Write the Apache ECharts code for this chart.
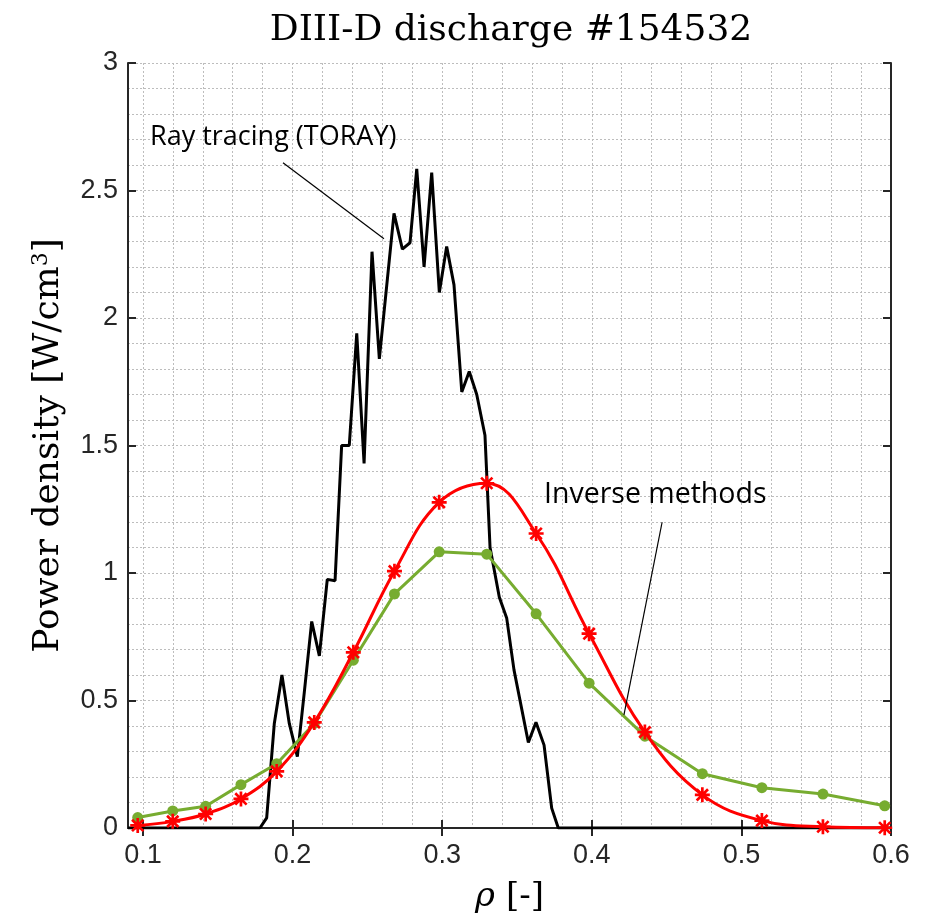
<!DOCTYPE html>
<html><head><meta charset="utf-8">
<script src="https://cdn.jsdelivr.net/npm/echarts@6/dist/echarts.min.js"></script>
<style>html,body{margin:0;padding:0;background:#fff}#c{width:933px;height:920px}</style>
</head><body><div id="c"></div>
<script>
// ---- data ----
const rhoInv = [0.0965,0.1199,0.1419,0.1655,0.1894,0.2145,0.2406,0.2681,0.2980,0.3298,0.3628,0.3982,0.4355,0.4739,0.5137,0.5545,0.5958];
const invRed = [0.010,0.026,0.055,0.114,0.222,0.414,0.689,1.007,1.277,1.352,1.155,0.762,0.376,0.130,0.029,0.005,0.001];
const invGreen = [0.041,0.067,0.085,0.170,0.252,0.410,0.658,0.918,1.083,1.074,0.840,0.568,0.360,0.213,0.158,0.133,0.087];
const rhoToray = [0.09,0.1782,0.1827,0.1878,0.1929,0.1978,0.2032,0.2078,0.2128,0.2179,0.2232,0.2284,0.2328,0.2379,0.2429,0.2478,0.2531,0.258,0.2678,0.2734,0.2785,0.283,0.2879,0.293,0.2981,0.303,0.3079,0.3131,0.3181,0.3231,0.3286,0.332,0.3382,0.3431,0.348,0.3576,0.3627,0.3681,0.3732,0.3776,0.6];
const torayP = [0,0,0.04,0.41,0.60,0.41,0.28,0.53,0.81,0.675,0.975,0.97,1.50,1.50,1.94,1.43,2.26,1.84,2.41,2.27,2.295,2.585,2.20,2.57,2.10,2.28,2.13,1.71,1.79,1.70,1.54,1.10,0.905,0.824,0.62,0.335,0.415,0.325,0.078,0,0];
const xTickValues = [0.1,0.2,0.3,0.4,0.5,0.6];
const xGridValues = [0.1,0.12,0.14,0.16,0.18,0.2,0.22,0.24,0.26,0.28,0.3,0.32,0.34,0.36,0.38,0.4,0.42,0.44,0.46,0.48,0.5,0.52,0.54,0.56,0.58];
const titleText = 'DIII-D discharge #154532';
const labelRay = 'Ray tracing (TORAY)';
const labelInv = 'Inverse methods';
const annRay = [[0.1936,2.609],[0.2611,2.311]];
const annInv = [[0.447,1.199],[0.4215,0.444]];

const zip = (a,b) => a.map((v,i)=>[v,b[i]]);
const axisColor = '#262626';
const gridLine = {show:true, lineStyle:{color:'#bdbdbd', width:1, type:[2,2]}};
const star = 'path://M0,8.2L20,8.2L20,11.8L0,11.8Z M8.2,0L11.8,0L11.8,20L8.2,20Z M3.7,1.2L18.8,16.3L16.3,18.8L1.2,3.7Z M16.3,1.2L18.8,3.7L3.7,18.8L1.2,16.3Z';

const chart = echarts.init(document.getElementById('c'), null, {renderer:'canvas'});
chart.setOption({
  animation:false,
  backgroundColor:'#fff',
  grid:{left:128, right:42, top:63, bottom:92, outerBoundsMode:'none'},
  xAxis:[
    {type:'value', min:0.09, max:0.6, position:'bottom',
     axisLine:{show:true, lineStyle:{color:axisColor, width:2}},
     axisTick:{show:true, inside:true, length:8, customValues:xTickValues, lineStyle:{color:axisColor, width:2}},
     axisLabel:{show:true, customValues:xTickValues, formatter:v=>v.toFixed(1), fontFamily:'Liberation Sans', fontSize:27, color:axisColor, margin:14},
     splitLine:{show:false},
     name:'{r|ρ} [-]', nameLocation:'middle', nameGap:52,
     nameTextStyle:{fontFamily:'DejaVu Serif', fontSize:34, color:'#000', rich:{r:{fontFamily:'DejaVu Serif', fontStyle:'italic', fontSize:34, color:'#000'}}}
    },
    {type:'value', min:0.09, max:0.6, position:'top',
     axisLine:{show:true, lineStyle:{color:axisColor, width:2}},
     axisTick:{show:true, inside:true, length:8, customValues:xTickValues, lineStyle:{color:axisColor, width:2}},
     axisLabel:{show:false}, splitLine:{show:false}},
    {type:'value', min:0.09, max:0.6, position:'bottom',
     axisLine:{show:false}, axisTick:{show:false, customValues:xGridValues},
     axisLabel:{show:false}, splitLine:gridLine}
  ],
  yAxis:[
    {type:'value', min:0, max:3, interval:0.5, position:'left',
     axisLine:{show:true, lineStyle:{color:axisColor, width:2}},
     axisTick:{show:true, inside:true, length:8, lineStyle:{color:axisColor, width:2}},
     axisLabel:{fontFamily:'Liberation Sans', fontSize:27, color:axisColor, margin:10},
     splitLine:gridLine,
     minorTick:{show:false, splitNumber:5},
     minorSplitLine:gridLine,
     name:'Power density [W/cm{s|3}]', nameLocation:'middle', nameRotate:90, nameGap:60,
     nameTextStyle:{fontFamily:'DejaVu Serif', fontSize:36, color:'#000', rich:{s:{fontFamily:'DejaVu Serif', fontSize:22, color:'#000', padding:[0,0,16,0]}}}
    },
    {type:'value', min:0, max:3, interval:0.5, position:'right',
     axisLine:{show:true, lineStyle:{color:axisColor, width:2}},
     axisTick:{show:true, inside:true, length:8, lineStyle:{color:axisColor, width:2}},
     axisLabel:{show:false}, splitLine:{show:false}}
  ],
  series:[
    {type:'line', name:'TORAY', xAxisIndex:0, yAxisIndex:0, data:zip(rhoToray, torayP),
     showSymbol:false, symbol:'none', lineStyle:{color:'#000', width:3}, itemStyle:{color:'#000'}, z:2,
     markLine:{silent:true, symbol:['none','none'], label:{show:false},
       lineStyle:{color:'#000', width:1.2, type:'solid'},
       data:[[{coord:annRay[0]},{coord:annRay[1]}],[{coord:annInv[0]},{coord:annInv[1]}]]}
    },
    {type:'line', name:'Inverse A', xAxisIndex:0, yAxisIndex:0, data:zip(rhoInv, invGreen),
     symbol:'circle', symbolSize:11, showAllSymbol:true, lineStyle:{color:'#77AC30', width:3}, itemStyle:{color:'#77AC30'}, z:3},
    {type:'line', name:'Inverse B', xAxisIndex:0, yAxisIndex:0, data:zip(rhoInv, invRed),
     smooth:0.4, symbol:star, symbolSize:15, showAllSymbol:true, lineStyle:{color:'#FF0000', width:3}, itemStyle:{color:'#FF0000'}, z:4}
  ],
  graphic:[
    {type:'text', x:511, y:31, style:{text:titleText, font:'36px "DejaVu Serif"', fill:'#000', textAlign:'center', textVerticalAlign:'middle'}},
    {type:'text', x:150, y:137, z:10, style:{text:labelRay, font:'27px "Open Sans"', fill:'#000', textAlign:'left', textVerticalAlign:'middle'}},
    {type:'text', x:544, y:495, z:10, style:{text:labelInv, font:'28.5px "Open Sans"', fill:'#000', textAlign:'left', textVerticalAlign:'middle'}}
  ]
});
</script></body></html>
